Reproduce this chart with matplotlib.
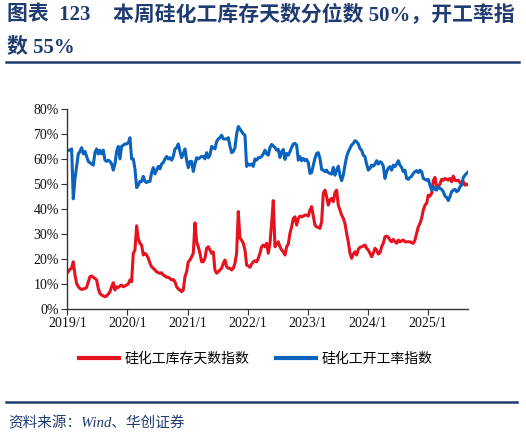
import numpy as np
import pandas as pd
import matplotlib
matplotlib.use("Agg")
import matplotlib.pyplot as plt
import matplotlib.dates as mdates
from matplotlib.ticker import FuncFormatter, MultipleLocator

# ---------------- data ----------------
start_date = "2019-01-07"
end_date = "2025-09-02"

inventory_days = [  # 硅化工库存天数指数 (%)
    14.8, 15.8, 16.2, 18.8, 13.5, 10.1, 8.8, 8.1, 7.7, 7.9,
    8.1, 8.5, 10.8, 12.8, 13.1, 12.6, 12.1, 11.5, 8.1, 6.1,
    5.5, 5.1, 4.8, 5.1, 5.9, 6.8, 8.8, 10.4, 7.5, 8.8,
    8.5, 9.1, 9.5, 8.8, 9.1, 9.5, 9.9, 11.5, 10.8, 22.2,
    23.5, 33.2, 28.0, 26.2, 25.5, 21.5, 22.2, 21.5, 20.2, 18.2,
    16.8, 16.2, 15.5, 14.8, 14.4, 14.2, 14.4, 13.5, 13.1, 12.6,
    12.6, 12.1, 11.5, 11.7, 10.8, 8.8, 7.9, 7.5, 6.8, 7.5,
    12.8, 14.8, 18.8, 19.5, 20.8, 22.2, 34.4, 26.8, 24.8, 22.2,
    18.8, 18.8, 20.2, 24.2, 24.8, 23.5, 22.2, 22.8, 15.5, 14.2,
    14.8, 15.5, 16.2, 18.2, 19.5, 16.8, 16.2, 16.2, 15.5, 16.2,
    18.2, 22.2, 38.9, 28.2, 27.5, 26.2, 23.5, 17.5, 17.1, 16.6,
    17.9, 18.8, 19.2, 18.8, 20.2, 22.2, 24.8, 25.5, 24.8, 26.2,
    22.2,
    26.2, 34.2, 43.3, 24.8, 25.9, 26.8, 24.8, 23.5, 22.8, 21.5,
    24.8, 25.9, 30.2, 32.8, 36.2, 36.8, 33.5, 36.2, 37.1, 36.8,
    37.1, 37.5, 37.5, 37.1, 39.5, 40.9, 37.1, 33.5, 32.8, 32.6,
    32.2, 34.8, 46.2, 47.5, 44.9, 41.5, 43.5, 44.2, 42.9, 46.5,
    47.5, 41.5, 39.5, 37.5, 36.2, 34.2, 30.2, 26.8, 22.2, 20.2,
    21.9, 22.8, 21.5, 23.8, 24.6, 24.8, 25.1, 25.5, 24.2, 23.5,
    22.2, 20.8, 22.2, 24.2, 23.5, 21.9, 22.4, 24.8, 26.2, 28.8,
    29.1, 28.6, 27.5, 26.8, 27.8, 26.8, 26.2, 27.5, 26.8, 27.2,
    27.5, 26.8, 26.8, 26.8, 26.8, 26.4, 26.2, 27.5, 30.2, 32.8,
    34.2, 36.2, 39.5, 41.5, 42.2, 45.5, 45.1, 46.2, 51.3, 52.6,
    48.9, 48.9, 49.9, 51.8, 51.5, 52.2, 51.8, 51.5, 52.2, 50.9,
    53.1, 51.5, 51.3, 51.5, 50.5, 49.9, 50.9, 49.5, 49.9, 49.5,
]

operating_rate = [  # 硅化工开工率指数 (%)
    63.5, 63.5, 64.0, 44.0, 52.0, 57.0, 62.0, 63.0, 64.5, 62.0,
    63.0, 61.0, 59.0, 58.5, 58.0, 57.5, 62.5, 64.0, 62.0, 63.5,
    62.0, 63.5, 59.5, 59.0, 59.5, 59.0, 58.0, 55.5, 58.0, 63.0,
    65.0, 60.0, 65.0, 65.5, 66.0, 66.0, 66.5, 68.5, 60.0, 60.0,
    56.0, 48.5, 49.5, 51.0, 51.0, 53.0, 51.0, 50.5, 51.0, 51.0,
    54.5, 56.5, 54.0, 55.5, 57.0, 56.0, 58.0, 58.5, 60.0, 61.0,
    60.0, 60.5, 59.5, 61.0, 64.0, 64.5, 66.0, 63.0, 60.5, 62.0,
    64.0, 59.5, 56.5, 59.0, 59.0, 55.0, 58.0, 60.5, 60.0, 60.5,
    61.0, 61.0, 60.0, 62.5, 60.5, 61.5, 65.0, 64.5, 64.0, 67.0,
    68.0, 68.5, 69.5, 68.0, 68.0, 68.0, 68.5, 65.0, 62.5, 63.0,
    64.5, 70.0, 73.0, 72.0, 71.0, 70.0, 69.5, 57.0, 58.0, 57.5,
    58.0, 57.0, 60.0, 59.5, 60.5, 60.5, 61.0, 62.0, 63.5, 62.0,
    61.5,
    64.6, 65.8, 65.2, 64.6, 63.5, 63.8, 60.6, 62.9, 63.8, 59.8,
    62.2, 61.5, 62.9, 64.6, 66.0, 66.2, 65.6, 59.5, 60.9, 59.3,
    60.2, 59.3, 59.8, 58.5, 54.2, 54.5, 57.5, 60.2, 62.2, 62.5,
    60.2, 55.8, 55.5, 54.9, 55.5, 54.5, 54.2, 53.9, 56.6, 53.5,
    55.5, 57.1, 53.5, 51.3, 53.5, 57.5, 60.9, 62.9, 64.2, 65.6,
    66.2, 67.3, 66.9, 66.0, 64.2, 63.5, 61.5, 60.9, 57.9, 55.5,
    56.2, 57.5, 57.1, 57.9, 59.3, 57.9, 58.9, 58.5, 57.1, 52.2,
    54.9, 56.2, 56.9, 55.5, 57.5, 56.9, 57.9, 59.3, 57.5, 56.6,
    54.9, 55.5, 52.2, 51.8, 52.6, 53.1, 54.2, 54.9, 55.3, 54.5,
    55.5, 54.9, 52.2, 51.8, 51.5, 51.8, 49.5, 47.5, 48.9, 47.8,
    47.5, 48.9, 48.2, 47.8, 46.9, 45.1, 44.6, 43.3, 44.9, 46.9,
    47.5, 47.8, 46.9, 47.3, 48.9, 49.5, 52.6, 53.5, 54.2, 54.9,
]

series_names = ["硅化工库存天数指数", "硅化工开工率指数"]
year_ticks = ["2019", "2020", "2021", "2022", "2023", "2024", "2025"]
year_labels = ["2019/1", "2020/1", "2021/1", "2022/1", "2023/1", "2024/1", "2025/1"]
y_ticks = [0, 10, 20, 30, 40, 50, 60, 70, 80]

dates = pd.date_range(start_date, end_date, periods=len(inventory_days))

# ---------------- style ----------------
RED = "#E5131F"
BLUE = "#0B63BD"
NAVY = "#1F3B70"
SERIF_CJK = ["Liberation Serif", "Noto Sans CJK SC"]
plt.rcParams["font.family"] = ["Noto Sans CJK SC", "DejaVu Sans"]

W, H = 526, 437
fig = plt.figure(figsize=(W / 100, H / 100), dpi=100)
ax = fig.add_axes([67.3 / W, 1 - 308.7 / H, (468.3 - 67.3) / W, (308.7 - 109) / H])

ax.plot(dates, inventory_days, color=RED, lw=2.2, label=series_names[0], solid_joinstyle="round")
ax.plot(dates, operating_rate, color=BLUE, lw=2.2, label=series_names[1], solid_joinstyle="round")

ax.set_ylim(0, 80)
ax.set_yticks(y_ticks)
ax.yaxis.set_major_formatter(FuncFormatter(lambda v, p: f"{v:.0f}%"))
ax.set_xlim(pd.Timestamp("2019-01-01"), dates[-1])
ax.set_xticks([pd.Timestamp(y + "-01-01") for y in year_ticks])
ax.set_xticklabels(year_labels)

for s in ["top", "right"]:
    ax.spines[s].set_visible(False)
for s in ["left", "bottom"]:
    ax.spines[s].set_color("#333333")
    ax.spines[s].set_linewidth(1.0)
ax.tick_params(axis="both", direction="out", length=4, width=0.8, color="#333333",
               labelsize=10, labelcolor="#111111", pad=2)
for lab in ax.get_xticklabels() + ax.get_yticklabels():
    lab.set_fontfamily(SERIF_CJK)

# legend
leg = fig.legend(loc="center", bbox_to_anchor=(255.5 / W, 1 - 359 / H), ncol=2, frameon=False,
                 fontsize=10, handlelength=2.9, handletextpad=0.4, columnspacing=1.9)
for line in leg.get_lines():
    line.set_linewidth(3)

# title
fig.text(7 / W, 1 - 15 / H, "图表  123", fontsize=15, fontweight="bold", color=NAVY,
         family=SERIF_CJK, va="center", ha="left")
fig.text(113 / W, 1 - 15 / H, "本周硅化工库存天数分位数 50%，开工率指", fontsize=15,
         fontweight="bold", color=NAVY, family=SERIF_CJK, va="center", ha="left")
fig.text(7 / W, 1 - 47 / H, "数 55%", fontsize=15, fontweight="bold", color=NAVY,
         family=SERIF_CJK, va="center", ha="left")

# rules
fig.add_artist(plt.Line2D([6 / W, 519 / W], [1 - 62 / H, 1 - 62 / H], color=NAVY, lw=1.8))
fig.add_artist(plt.Line2D([6 / W, 517 / W], [1 - 401.5 / H, 1 - 401.5 / H], color=NAVY, lw=1.8))

# source
fig.text(8 / W, 1 - 423 / H, "资料来源：Wind、华创证券", fontsize=10.5, color=NAVY,
         family=SERIF_CJK, style="italic", va="center", ha="left")

fig.savefig("out.png", dpi=100)
